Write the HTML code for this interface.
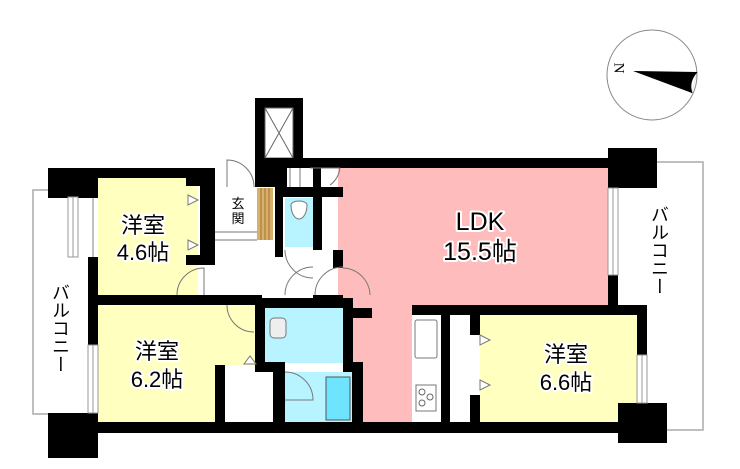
<!DOCTYPE html>
<html><head><meta charset="utf-8"><style>
html,body{margin:0;padding:0;background:#fff;}
svg{display:block}
text{font-family:"Liberation Sans","Noto Sans CJK JP",sans-serif;paint-order:stroke;stroke:#fff;stroke-width:4px;stroke-linejoin:round;fill:#000}
</style></head><body>
<svg width="740" height="469" viewBox="0 0 740 469" xmlns="http://www.w3.org/2000/svg">
<!-- compass -->
<circle cx="652" cy="75" r="45" fill="#fff" stroke="#888" stroke-width="1"/>
<polygon points="633,71 697,72 692,93" fill="#000"/>
<path d="M697,72 Q688,82 692,93" fill="#fff" stroke="#000" stroke-width="1"/>
<text x="618" y="68" font-size="15" transform="rotate(90 618 68)" text-anchor="middle" dominant-baseline="middle" style="stroke:none;font-family:'Liberation Serif',serif">N</text>

<!-- balconies -->
<rect x="33" y="190" width="60" height="224" fill="#fff" stroke="#aaa" stroke-width="1.5"/>
<rect x="610" y="162" width="93" height="268" fill="#fff" stroke="#aaa" stroke-width="1.5"/>

<!-- room fills -->
<rect x="98" y="178" width="100" height="117" fill="#ffffc0"/>
<rect x="98" y="305" width="160" height="117" fill="#ffffc0"/>
<rect x="225" y="365" width="48" height="57" fill="#fff"/>
<rect x="338" y="168" width="270" height="137" fill="#ffbcbc"/>
<rect x="353" y="305" width="59" height="117" fill="#ffbcbc"/>
<rect x="480" y="315" width="157" height="107" fill="#ffffc0"/>
<rect x="285" y="198" width="28" height="49" fill="#b8f4ff"/>
<rect x="265" y="308" width="78" height="55" fill="#b8f4ff"/>
<rect x="285" y="372" width="67" height="50" fill="#b8f4ff"/>
<rect x="326" y="377" width="24" height="43" fill="#6fe4ff" stroke="#555" stroke-width="1"/>

<!-- kitchen -->
<rect x="412" y="315" width="29" height="107" fill="#fff"/>
<rect x="415" y="320" width="22" height="38" rx="2" fill="#fff" stroke="#777"/>
<rect x="416" y="385" width="20" height="26" fill="#fff" stroke="#777"/>
<circle cx="422" cy="392" r="3" fill="none" stroke="#666"/><circle cx="430" cy="397" r="3" fill="none" stroke="#666"/><circle cx="422" cy="403" r="3" fill="none" stroke="#666"/>
<!-- closet 6.6 -->
<rect x="450" y="315" width="20" height="107" fill="#fff"/>

<!-- stair shaft -->
<rect x="255" y="98" width="48" height="70" fill="#000"/>
<rect x="265" y="108" width="28" height="50" fill="#fff" stroke="#666"/>
<line x1="265" y1="108" x2="293" y2="158" stroke="#666"/><line x1="293" y1="108" x2="265" y2="158" stroke="#666"/>

<!-- walls -->
<g fill="#000">
<rect x="48" y="168" width="50" height="30"/>
<rect x="98" y="168" width="117" height="10"/>
<rect x="186" y="178" width="14" height="8"/>
<rect x="200" y="168" width="15" height="97"/>
<rect x="186" y="255" width="14" height="10"/>
<rect x="88" y="257" width="10" height="88"/>
<rect x="95" y="295" width="167" height="10"/>
<rect x="48" y="413" width="50" height="45"/>
<rect x="48" y="422" width="570" height="11"/>
<rect x="255" y="158" width="28" height="29"/>
<rect x="275" y="158" width="8" height="99"/>
<rect x="255" y="158" width="353" height="10"/>
<rect x="283" y="187" width="60" height="10"/>
<rect x="313" y="197" width="9" height="53"/>
<rect x="283" y="168" width="4" height="19"/>
<rect x="313" y="168" width="8" height="19"/>
<rect x="333" y="250" width="10" height="18"/>
<rect x="608" y="148" width="49" height="40"/>
<rect x="608" y="275" width="10" height="30"/>
<rect x="313" y="295" width="30" height="10"/>
<rect x="255" y="298" width="95" height="10"/>
<rect x="343" y="298" width="10" height="74"/>
<rect x="352" y="308" width="20" height="10"/>
<rect x="255" y="298" width="10" height="74"/>
<rect x="258" y="362" width="27" height="10"/>
<rect x="273" y="362" width="12" height="60"/>
<rect x="215" y="365" width="10" height="57"/>
<rect x="343" y="362" width="20" height="10"/>
<rect x="352" y="362" width="11" height="60"/>
<rect x="412" y="305" width="235" height="10"/>
<rect x="441" y="305" width="9" height="117"/>
<rect x="470" y="315" width="10" height="20"/>
<rect x="470" y="395" width="10" height="27"/>
<rect x="637" y="305" width="10" height="50"/>
<rect x="618" y="403" width="49" height="40"/>
</g>
<!-- windows -->
<g fill="#fff" stroke="#999" stroke-width="1">
<rect x="68" y="197" width="10" height="60"/>
<line x1="73" y1="197" x2="73" y2="257"/>
<rect x="88" y="345" width="10" height="68"/>
<line x1="93" y1="345" x2="93" y2="413"/>
<rect x="608" y="188" width="10" height="87"/>
<line x1="613" y1="188" x2="613" y2="275"/>
<rect x="637" y="355" width="10" height="48"/>
<line x1="642" y1="355" x2="642" y2="403"/>
</g>
<!-- entrance step -->
<rect x="257" y="188" width="16" height="52" fill="#d9b06a"/>
<g stroke="#9a7330" stroke-width="1"><line x1="261" y1="188" x2="261" y2="240"/><line x1="265" y1="188" x2="265" y2="240"/><line x1="269" y1="188" x2="269" y2="240"/></g>
<!-- door arcs -->
<g fill="none" stroke="#777" stroke-width="1">
<path d="M227,187 L227,160 A27,27 0 0 1 254,187"/>
<line x1="215" y1="240" x2="257" y2="240"/><line x1="215" y1="232" x2="257" y2="232"/>
<path d="M177,295 A27,27 0 0 1 204,268 L204,295"/>
<path d="M227,305 A27,27 0 0 0 254,332"/>
<path d="M285,250 A28,28 0 0 0 313,278"/>
<path d="M285,295 A28,28 0 0 1 313,267"/>
<path d="M315,295 A28,28 0 0 1 343,267"/>
<path d="M343,268 A28,28 0 0 1 370,295"/>
<path d="M285,372 A28,28 0 0 1 313,400 L285,400"/>
<path d="M310,168 L340,168 A25,25 0 0 1 330,185"/>
<path d="M290,168 V187 M300,168 V187"/>
<polygon points="244,364 250,356 256,364" fill="#fff"/>
<polygon points="188,195 198,200 188,205" fill="#fff"/>
<polygon points="188,240 198,245 188,250" fill="#fff"/>
<polygon points="480,335 490,340 480,345" fill="#fff"/>
<polygon points="480,380 490,385 480,390" fill="#fff"/>
<rect x="270" y="318" width="16" height="20" rx="4" fill="#eee"/>
<path d="M291,205 a8,14 0 1 0 16,0 a8,4 0 0 0 -16,0z" fill="#fff"/>
</g>

<!-- labels -->
<text x="143" y="233" font-size="22" text-anchor="middle">洋室</text>
<text x="143" y="260" font-size="22" text-anchor="middle">4.6帖</text>
<text x="157" y="359" font-size="22" text-anchor="middle">洋室</text>
<text x="157" y="387" font-size="22" text-anchor="middle">6.2帖</text>
<text x="480" y="230" font-size="25" text-anchor="middle">LDK</text>
<text x="480" y="260" font-size="25" text-anchor="middle">15.5帖</text>
<text x="566" y="362" font-size="22" text-anchor="middle">洋室</text>
<text x="566" y="390" font-size="22" text-anchor="middle">6.6帖</text>
<text x="238" y="208" font-size="13" text-anchor="middle">玄</text>
<text x="238" y="223" font-size="13" text-anchor="middle">関</text>
<text x="60" y="283" font-size="18" style="writing-mode:vertical-rl" text-anchor="start">バルコニー</text>
<text x="659" y="205" font-size="18" style="writing-mode:vertical-rl" text-anchor="start">バルコニー</text>
</svg>
</body></html>
